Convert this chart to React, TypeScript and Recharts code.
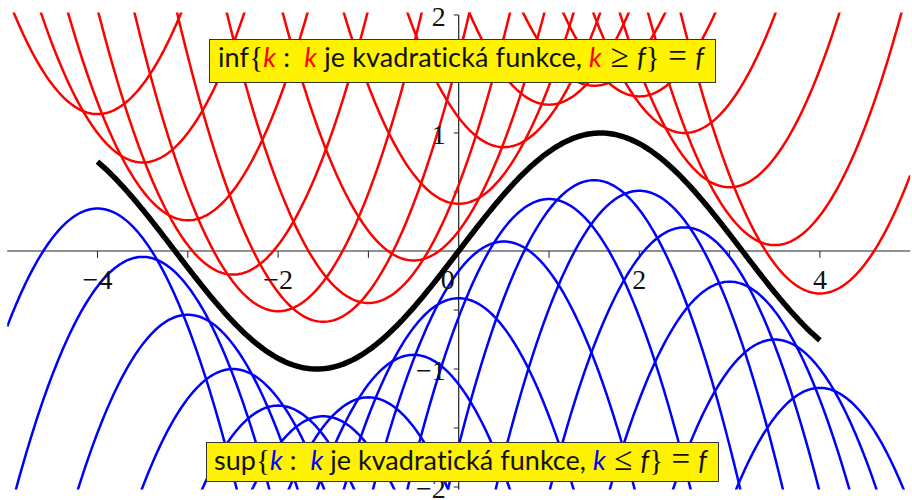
import React from 'react';
import { LineChart, Line, XAxis, YAxis, ReferenceLine, ReferenceDot } from 'recharts';

// Points where each quadratic has its vertex (shared by the upper and lower families)
const vertexX = [-4, -3.5, -3, -2.5, -2, -1.5, -1, -0.5, 0, 0.5, 1, 1.5, 2, 2.5, 3, 3.5, 4];
// Vertex heights of the upper (red) parabolas, k >= f
const redVertexY = [1.16, 0.75, 0.26, -0.2, -0.51, -0.6, -0.44, -0.08, 0.4, 0.88, 1.24, 1.4, 1.31, 1.0, 0.54, 0.05, -0.36];
// Vertex heights of the lower (blue) parabolas, k <= f
const blueVertexY = [0.36, -0.05, -0.54, -1.0, -1.31, -1.4, -1.24, -0.88, -0.4, 0.08, 0.44, 0.6, 0.51, 0.2, -0.26, -0.75, -1.16];
// Leading coefficient magnitude of every parabola
const curvature = 1;

// Axis ticks and labels
const xTickValues = [-4, -3, -2, -1, 1, 2, 3, 4];
const yTickValues = [-2, -1.5, -1, -0.5, 0.5, 1, 1.5, 2];
const xLabelValues = [-4, -2, 0, 2, 4];
const xLabelTexts = ['\u22124', '\u22122', '0', '2', '4'];
const yLabelValues = [-2, -1, 1, 2];
const yLabelTexts = ['\u22122', '\u22121', '1', '2'];

const X_DOMAIN: [number, number] = [-5, 5];
const Y_DOMAIN: [number, number] = [-2.02, 2.02];
const F_RANGE: [number, number] = [-4, 4];

// sampling grid for drawing the curves
const STEP = 0.02;
const gridXs: number[] = [];
for (let i = 0; i <= Math.round((X_DOMAIN[1] - X_DOMAIN[0]) / STEP); i++) {
  gridXs.push(Number((X_DOMAIN[0] + i * STEP).toFixed(2)));
}

const f = (x: number) => Math.sin(x);

const rows = gridXs.map((x) => {
  const row: Record<string, number | null> = { x };
  row.f = x >= F_RANGE[0] - 1e-9 && x <= F_RANGE[1] + 1e-9 ? f(x) : null;
  vertexX.forEach((a, i) => {
    row['r' + i] = redVertexY[i] + curvature * (x - a) * (x - a);
    row['b' + i] = blueVertexY[i] - curvature * (x - a) * (x - a);
  });
  return row;
});

const RED = '#ff0000';
const BLUE = '#0000ff';
const AXIS = '#222222';
const TICK_FONT = '"Liberation Serif", "Times New Roman", serif';
const BOX_FONT = 'Lato, "Open Sans", sans-serif';

const xLabel = (text: string, dx: number) => (props: any) => {
  const vb = props.viewBox || {};
  return (
    <text x={vb.x + dx} y={vb.y + 38} textAnchor="middle" fontFamily={TICK_FONT} fontSize={28} fill="#111">
      {text}
    </text>
  );
};

const yLabel = (text: string) => (props: any) => {
  const vb = props.viewBox || {};
  return (
    <text x={vb.x - 13} y={vb.y + 11} textAnchor="end" fontFamily={TICK_FONT} fontSize={28} fill="#111">
      {text}
    </text>
  );
};

function Caption({ x, y, w, h, tx, ty, tl, head, color, rel }: any) {
  return (
    <g>
      <rect x={x} y={y} width={w} height={h} fill="#fff200" stroke="#333" strokeWidth={1} />
      <text
        x={tx}
        y={ty}
        fontFamily={BOX_FONT}
        fontSize={27}
        fill="#111"
        textLength={tl}
        lengthAdjust="spacing"
        style={{ whiteSpace: 'pre', fontVariantLigatures: 'none' }}
      >
        <tspan>{head}</tspan>
        <tspan fontFamily={TICK_FONT} fontSize={29}>{'{'}</tspan>
        <tspan fill={color} fontStyle="italic">k</tspan>
        <tspan>{' :  '}</tspan>
        <tspan fill={color} fontStyle="italic">k</tspan>
        <tspan>{' je kvadratická funkce, '}</tspan>
        <tspan fill={color} fontStyle="italic">k</tspan>
        <tspan fontFamily={TICK_FONT} fontSize={33}>{' ' + rel + ' '}</tspan>
        <tspan fontStyle="italic">f</tspan>
        <tspan fontFamily={TICK_FONT} fontSize={29}>{'}'}</tspan>
        <tspan fontFamily={TICK_FONT} fontSize={33}>{' = '}</tspan>
        <tspan fontStyle="italic">f</tspan>
      </text>
    </g>
  );
}

export default function App() {
  return (
    <div style={{ position: 'absolute', left: 0, top: 0, width: 912, height: 500, background: '#fff' }}>
      <LineChart
        width={912}
        height={500}
        data={rows}
        margin={{ top: 12.6, right: 1.8, bottom: 10.6, left: 7.2 }}
      >
        <XAxis dataKey="x" type="number" domain={X_DOMAIN} allowDataOverflow hide />
        <YAxis type="number" domain={Y_DOMAIN} allowDataOverflow hide />

        <ReferenceLine y={0} stroke={AXIS} strokeWidth={1.2} />
        <ReferenceLine segment={[{ x: 0, y: Y_DOMAIN[0] }, { x: 0, y: 2 }]} stroke={AXIS} strokeWidth={1.2} />
        {xTickValues.map((v) => (
          <ReferenceLine key={'xt' + v} segment={[{ x: v, y: 0 }, { x: v, y: -0.058 }]} stroke={AXIS} strokeWidth={1} />
        ))}
        {yTickValues.map((v) => (
          <ReferenceLine key={'yt' + v} segment={[{ x: -0.055, y: v }, { x: 0, y: v }]} stroke={AXIS} strokeWidth={1} />
        ))}
        {xLabelValues.map((v, i) => (
          <ReferenceDot key={'xl' + v} x={v} y={0} r={0} fill="none" stroke="none" label={xLabel(xLabelTexts[i], v === 0 ? -11 : 0)} />
        ))}
        {yLabelValues.map((v, i) => (
          <ReferenceDot key={'yl' + v} x={0} y={v} r={0} fill="none" stroke="none" label={yLabel(yLabelTexts[i])} />
        ))}

        {vertexX.map((a, i) => (
          <Line key={'b' + i} dataKey={'b' + i} stroke={BLUE} strokeWidth={2.5} dot={false} type="linear" isAnimationActive={false} />
        ))}
        {vertexX.map((a, i) => (
          <Line key={'r' + i} dataKey={'r' + i} stroke={RED} strokeWidth={2.5} dot={false} type="linear" isAnimationActive={false} />
        ))}
        <Line dataKey="f" stroke="#000" strokeWidth={5.5} dot={false} type="linear" isAnimationActive={false} />
      </LineChart>

      <svg width={912} height={500} style={{ position: 'absolute', left: 0, top: 0, pointerEvents: 'none' }}>
        <Caption x={209.5} y={39.5} w={506} h={43} tx={218} ty={67} tl={486} head="inf" color={RED} rel={'\u2265'} />
        <Caption x={206.5} y={442.5} w={512} h={39} tx={214} ty={470} tl={493} head="sup" color={BLUE} rel={'\u2264'} />
      </svg>
    </div>
  );
}
